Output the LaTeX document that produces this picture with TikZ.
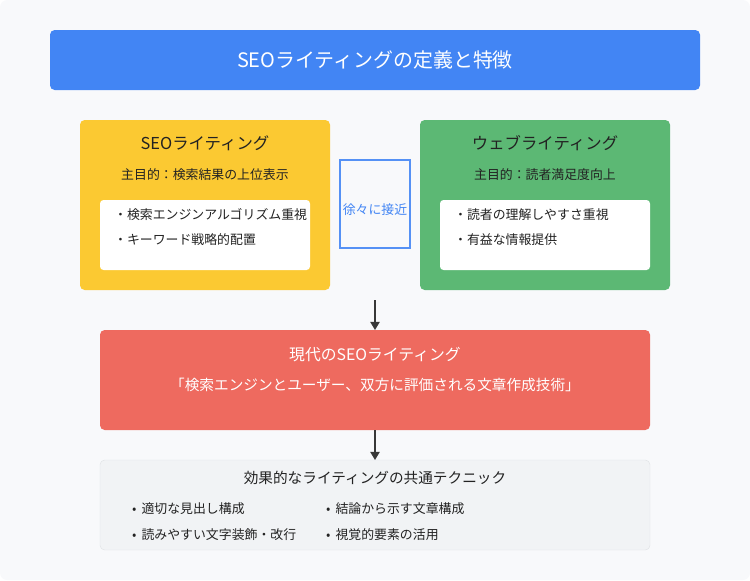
\documentclass[tikz,border=0pt]{standalone}
\usepackage{fontspec}
\setmainfont{Noto Sans CJK JP}
\usetikzlibrary{arrows.meta}
\definecolor{bgcol}{HTML}{F8F9FB}
\definecolor{titleblue}{HTML}{4285F4}
\definecolor{seoyellow}{HTML}{FBC932}
\definecolor{webgreen}{HTML}{5CB874}
\definecolor{modernred}{HTML}{EE6A5F}
\definecolor{tipgray}{HTML}{F1F3F5}
\definecolor{tipedge}{HTML}{E0E3E6}
\definecolor{textdark}{HTML}{222222}
\tikzset{
  panel/.style={rounded corners=4pt, draw=none},
  itembox/.style={fill=white, rounded corners=3pt},
  flowarrow/.style={-{Triangle[length=7pt,width=8pt]}, line width=1.2pt, draw=textdark!90},
}
\begin{document}
\begin{tikzpicture}[x=0.03cm, y=-0.03cm, font=\fontsize{11}{13}\selectfont]
  % background
  \fill[bgcol, rounded corners=6pt] (0,0) rectangle (750,580);
  \useasboundingbox (0,0) rectangle (750,580);
  % title
  \fill[panel, fill=titleblue] (50,30) rectangle (700,90);
  \node[white, font=\fontsize{17}{20}\selectfont] (title) at (375,60) {SEOライティングの定義と特徴};
  % SEO writing
  \fill[panel, fill=seoyellow] (80,120) rectangle (330,290);
  \node[textdark, font=\fontsize{14}{16}\selectfont] (seohead) at (205,143) {SEOライティング};
  \node[textdark] (seogoal) at (205,175) {主目的：検索結果の上位表示};
  \fill[itembox] (100,200) rectangle (310,270);
  \node[textdark, anchor=west] (seoa) at (110,215) {・検索エンジンアルゴリズム重視};
  \node[textdark, anchor=west] (seob) at (110,240) {・キーワード戦略的配置};
  % web writing
  \fill[panel, fill=webgreen] (420,120) rectangle (670,290);
  \node[textdark, font=\fontsize{14}{16}\selectfont] (webhead) at (545,143) {ウェブライティング};
  \node[textdark] (webgoal) at (545,175) {主目的：読者満足度向上};
  \fill[itembox] (440,200) rectangle (650,270);
  \node[textdark, anchor=west] (weba) at (450,215) {・読者の理解しやすさ重視};
  \node[textdark, anchor=west] (webb) at (450,240) {・有益な情報提供};
  % approach
  \draw[titleblue!90, line width=2pt] (340,160) rectangle (410,248);
  \node[titleblue] (approach) at (375,210) {徐々に接近};
  % modern
  \coordinate (split) at (375,300);
  \fill[panel, fill=modernred] (100,330) rectangle (650,430);
  \coordinate (modtop) at (375,330);
  \coordinate (modbot) at (375,430);
  \node[white, font=\fontsize{13.5}{16}\selectfont] (modhead) at (375,355) {現代のSEOライティング};
  \node[white, font=\fontsize{12.5}{15}\selectfont] (modquote) at (375,385) {「検索エンジンとユーザー、双方に評価される文章作成技術」};
  \draw[flowarrow] (split) -- (modtop);
  % common techniques
  \draw[rounded corners=4pt, fill=tipgray, draw=tipedge] (100,460) rectangle (650,550);
  \coordinate (tiptop) at (375,460);
  \draw[flowarrow] (modbot) -- (tiptop);
  \node[textdark, font=\fontsize{12.5}{15}\selectfont] (tiphead) at (375,478) {効果的なライティングの共通テクニック};
  \node[textdark, anchor=west] (tipa) at (128,509) {•\, 適切な見出し構成};
  \node[textdark, anchor=west] (tipb) at (128,535) {•\, 読みやすい文字装飾・改行};
  \node[textdark, anchor=west] (tipc) at (322,509) {•\, 結論から示す文章構成};
  \node[textdark, anchor=west] (tipd) at (322,535) {•\, 視覚的要素の活用};
\end{tikzpicture}
\end{document}
